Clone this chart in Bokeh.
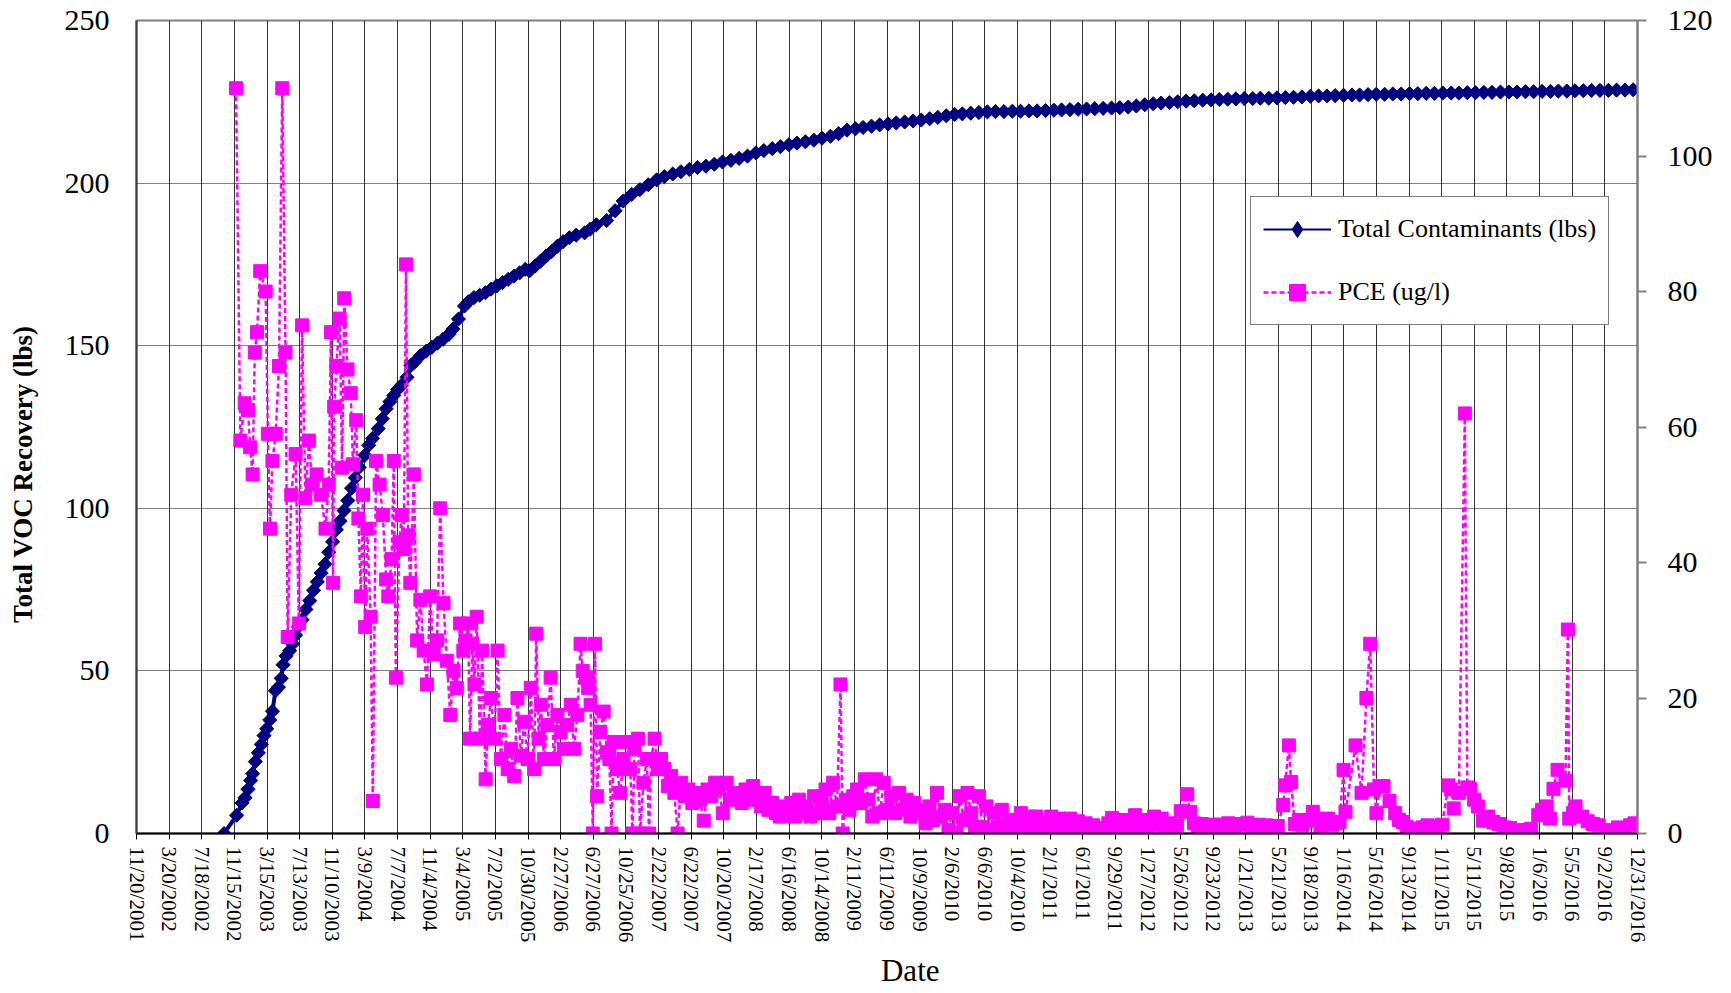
import numpy as np
import pandas as pd
from bokeh.plotting import figure
from bokeh.models import Range1d, LinearAxis, FixedTicker, Legend, LegendItem
from bokeh.embed import file_html
from bokeh.resources import INLINE

START = pd.Timestamp("2001-11-20")

TICK_LABELS = ["11/20/2001", "3/20/2002", "7/18/2002", "11/15/2002", "3/15/2003", "7/13/2003",
               "11/10/2003", "3/9/2004", "7/7/2004", "11/4/2004", "3/4/2005", "7/2/2005",
               "10/30/2005", "2/27/2006", "6/27/2006", "10/25/2006", "2/22/2007", "6/22/2007",
               "10/20/2007", "2/17/2008", "6/16/2008", "10/14/2008", "2/11/2009", "6/11/2009",
               "10/9/2009", "2/6/2010", "6/6/2010", "10/4/2010", "2/1/2011", "6/1/2011",
               "9/29/2011", "1/27/2012", "5/26/2012", "9/23/2012", "1/21/2013", "5/21/2013",
               "9/18/2013", "1/16/2014", "5/16/2014", "9/13/2014", "1/11/2015", "5/11/2015",
               "9/8/2015", "1/6/2016", "5/5/2016", "9/2/2016", "12/31/2016"]
LEFT_TICKS = [0, 50, 100, 150, 200, 250]
RIGHT_TICKS = [0, 20, 40, 60, 80, 100, 120]

# ---- Total Contaminants (lbs), early readings with explicit dates ----
TOTAL_EARLY_DATES = [
    "2002-10-08", "2002-11-23", "2002-12-13", "2002-12-24", "2003-01-04", "2003-01-14", "2003-01-21", "2003-01-31",
    "2003-02-11", "2003-02-22", "2003-03-04", "2003-03-14", "2003-03-25", "2003-04-04", "2003-04-15", "2003-04-26",
    "2003-05-06", "2003-05-13", "2003-05-24", "2003-06-06", "2003-06-17", "2003-06-28", "2003-07-08", "2003-07-22",
    "2003-08-05", "2003-08-19", "2003-09-02", "2003-09-16", "2003-09-30", "2003-10-14", "2003-10-28", "2003-11-11",
    "2003-11-25", "2003-12-09", "2003-12-23", "2004-01-06", "2004-01-20", "2004-02-03", "2004-02-17", "2004-03-09",
    "2004-03-23", "2004-04-06", "2004-04-27", "2004-05-12", "2004-05-26", "2004-06-09", "2004-06-23", "2004-07-07",
    "2004-07-21", "2004-08-11", "2004-08-25", "2004-09-08", "2004-09-29", "2004-10-20", "2004-11-10", "2004-12-01",
    "2004-12-22", "2005-01-12", "2005-01-27", "2005-02-16", "2005-03-10", "2005-03-24", "2005-04-14", "2005-05-05",
    "2005-05-26", "2005-06-16", "2005-07-07", "2005-07-28", "2005-08-18", "2005-09-08", "2005-09-29", "2005-10-20",
    "2005-11-04", "2005-11-25", "2005-12-15", "2006-01-05", "2006-01-25", "2006-02-15", "2006-03-08", "2006-03-31",
    "2006-04-25", "2006-05-26", "2006-06-15", "2006-07-08"]
TOTAL_EARLY_LBS = [
    0, 5.6, 9.4, 11, 13.6, 16.3, 18.4, 22.1,
    24.8, 27.4, 30.1, 32.2, 34.9, 37.6, 43.9, 45,
    47.7, 51.9, 54.6, 56.2, 58.3, 61, 63.6, 65.7,
    68.9, 71.6, 74.8, 77.4, 80.1, 82.8, 86.5, 89.7,
    93.4, 96.1, 99.3, 102.4, 106.2, 109.4, 112.6, 116.3,
    119.4, 121.5, 124.5, 127.5, 130.6, 132.8, 134.7, 136.5,
    137.8, 140.3, 143.9, 145, 146.9, 148.3, 149.5, 150.8,
    152, 153.5, 155.1, 158.2, 162.2, 163.5, 164.8, 165.5,
    166.3, 167.4, 168.4, 169.4, 170.4, 171.4, 172.4, 173.5,
    173, 174.5, 176, 177.6, 179, 180.6, 182, 183.2,
    184, 184.7, 185.8, 187.2]

# ---- Total Contaminants (lbs), monthly readings (mid-month) ----
TOTAL_2006_AUG_DEC = [188.5, 191.5, 194.5, 196.5, 198.0]
TOTAL_2007 = [199.5, 201.0, 202.0, 202.8, 203.5, 204.2, 204.8, 205.2, 205.8, 206.5, 207.0, 207.6]
TOTAL_2008 = [208.3, 209.3, 210.0, 210.6, 211.2, 211.8, 212.3, 212.7, 213.2, 213.8, 214.4, 215.2]
TOTAL_2009 = [216.3, 216.7, 217.1, 217.5, 217.9, 218.2, 218.5, 218.8, 219.1, 219.4, 219.8, 220.2]
TOTAL_2010 = [220.7, 221.1, 221.3, 221.5, 221.7, 221.9, 222.0, 222.0, 222.1, 222.1, 222.2, 222.2]
TOTAL_2011 = [222.3, 222.4, 222.5, 222.6, 222.7, 222.8, 222.9, 223.0, 223.1, 223.2, 223.4, 223.7]
TOTAL_2012 = [224.1, 224.4, 224.6, 224.8, 225.0, 225.2, 225.3, 225.5, 225.6, 225.7, 225.8, 225.9]
TOTAL_2013 = [226.0, 226.0, 226.1, 226.1, 226.2, 226.3, 226.4, 226.5, 226.7, 226.8, 226.8, 226.9]
TOTAL_2014 = [227.0, 227.1, 227.1, 227.2, 227.3, 227.3, 227.4, 227.4, 227.5, 227.5, 227.6, 227.6]
TOTAL_2015 = [227.7, 227.7, 227.7, 227.8, 227.8, 227.9, 227.9, 228.0, 228.0, 228.0, 228.1, 228.1]
TOTAL_2016 = [228.2, 228.2, 228.3, 228.3, 228.4, 228.4, 228.5, 228.5, 228.5, 228.6, 228.6, 228.7]

# ---- PCE (ug/l) ----
PCE_DATES_A = [
    "2002-11-21", "2002-12-07", "2002-12-23", "2003-01-04", "2003-01-12", "2003-01-21", "2003-01-29", "2003-02-06",
    "2003-02-18", "2003-03-10", "2003-03-18", "2003-03-26", "2003-04-04", "2003-04-16", "2003-04-28", "2003-05-10",
    "2003-05-22", "2003-05-30", "2003-06-12", "2003-06-28", "2003-07-10", "2003-07-22", "2003-08-03", "2003-08-16",
    "2003-08-28", "2003-09-13", "2003-09-29", "2003-10-16", "2003-10-28", "2003-11-05", "2003-11-13", "2003-11-17",
    "2003-11-25", "2003-12-07", "2003-12-16", "2003-12-24", "2004-01-05", "2004-01-17", "2004-01-25", "2004-02-06",
    "2004-02-14", "2004-02-23", "2004-03-02", "2004-03-10", "2004-03-18", "2004-03-30", "2004-04-07", "2004-04-19",
    "2004-05-02", "2004-05-14", "2004-05-26", "2004-06-03", "2004-06-15", "2004-06-23", "2004-07-01", "2004-07-14",
    "2004-07-22", "2004-07-30", "2004-08-07", "2004-08-15", "2004-08-23", "2004-09-05", "2004-09-17", "2004-09-29"]
PCE_UGL_A = [
    110, 58, 63.5, 62.5, 57, 53, 71, 74,
    83, 80, 59, 45, 55, 59, 69, 110,
    71, 29, 50, 56, 31, 75, 49.5, 58,
    51.5, 53, 50, 45, 51.5, 74, 37, 63,
    69, 76, 54, 79, 68.5, 65, 54.5, 61,
    46.5, 35, 50, 30.5, 45, 32, 4.8, 55,
    51.5, 47, 37.5, 35, 40.5, 55, 23, 43,
    47, 42, 84, 44, 37, 53, 28.5, 34.5]

PCE_DATES_B = [
    "2004-10-11", "2004-10-23", "2004-11-04", "2004-11-17", "2004-11-29", "2004-12-11", "2004-12-23", "2005-01-04",
    "2005-01-17", "2005-01-29", "2005-02-10", "2005-02-22", "2005-03-06", "2005-03-14", "2005-03-23", "2005-03-31",
    "2005-04-08", "2005-04-16", "2005-04-24", "2005-05-06", "2005-05-14", "2005-05-27", "2005-06-04", "2005-06-16",
    "2005-06-28", "2005-07-10", "2005-07-22", "2005-08-04", "2005-08-16", "2005-08-28", "2005-09-09", "2005-09-21",
    "2005-10-04", "2005-10-16", "2005-10-28", "2005-11-09", "2005-11-21", "2005-11-29", "2005-12-08", "2005-12-16",
    "2005-12-28", "2006-01-09", "2006-01-21", "2006-02-02", "2006-02-15", "2006-02-27", "2006-03-11", "2006-03-23",
    "2006-04-05", "2006-04-17", "2006-04-29", "2006-05-11", "2006-05-19", "2006-05-31", "2006-06-08", "2006-06-17",
    "2006-06-25", "2006-07-03", "2006-07-11", "2006-07-23", "2006-08-04", "2006-08-16", "2006-08-25", "2006-09-02",
    "2006-09-10", "2006-09-22", "2006-10-04", "2006-10-16", "2006-10-28", "2006-11-10", "2006-11-18", "2006-11-26",
    "2006-12-08", "2006-12-16", "2006-12-28", "2007-01-10", "2007-01-18", "2007-01-26", "2007-02-07", "2007-02-19",
    "2007-03-03", "2007-03-16", "2007-03-28", "2007-04-09", "2007-04-21", "2007-05-03", "2007-05-16", "2007-05-30"]
PCE_UGL_B = [
    27, 22, 35, 26.5, 28.5, 48, 34, 25.5,
    17.5, 24, 21.5, 31, 27, 28.5, 31, 14,
    28, 22, 32, 14, 27, 8, 16, 20,
    14, 27, 11, 17.5, 9.5, 12.5, 8.5, 20,
    11.5, 16.5, 11, 21.5, 9.5, 29.5, 14, 19,
    11, 16, 23, 11, 17.5, 15, 12.5, 16,
    19, 12.5, 17.5, 28, 24, 23, 21.5, 19,
    0, 28, 5.5, 15, 18, 12, 11, 0,
    13.5, 9.5, 6, 11, 13.5, 9.5, 0, 12.5,
    14, 0, 7.5, 11, 0, 11, 14, 9.5,
    11, 9.5, 7, 8.5, 6, 0, 7.5, 5.5]

PCE_DATES_C = [
    "2007-06-12", "2007-06-26", "2007-07-10", "2007-07-24", "2007-08-07", "2007-08-21", "2007-09-04", "2007-09-18",
    "2007-10-02", "2007-10-16", "2007-10-30", "2007-11-13", "2007-11-27", "2007-12-11", "2007-12-25", "2008-01-08",
    "2008-01-22", "2008-02-05", "2008-02-19", "2008-03-04", "2008-03-18", "2008-04-01", "2008-04-15", "2008-04-29",
    "2008-05-13", "2008-05-27", "2008-06-10", "2008-06-24", "2008-07-08", "2008-07-22", "2008-08-05", "2008-08-19",
    "2008-09-02", "2008-09-16", "2008-09-30", "2008-10-14", "2008-10-28", "2008-11-11", "2008-11-25", "2008-12-09",
    "2008-12-22", "2008-12-30", "2009-01-10", "2009-01-24", "2009-02-07", "2009-02-21", "2009-03-07", "2009-03-21",
    "2009-04-04", "2009-04-18", "2009-05-02", "2009-05-16", "2009-05-30", "2009-06-13", "2009-06-27", "2009-07-11",
    "2009-07-25", "2009-08-08", "2009-08-22", "2009-09-05", "2009-09-19", "2009-10-03", "2009-10-17", "2009-10-31",
    "2009-11-14", "2009-11-28", "2009-12-12", "2009-12-26", "2010-01-09", "2010-01-23", "2010-02-06", "2010-02-20",
    "2010-03-06", "2010-03-20", "2010-04-03", "2010-04-17", "2010-05-01", "2010-05-15", "2010-05-29", "2010-06-12",
    "2010-06-26", "2010-07-10", "2010-07-24", "2010-08-07", "2010-08-21", "2010-09-04", "2010-09-18", "2010-10-02",
    "2010-10-16", "2010-10-30", "2010-11-13", "2010-11-27", "2010-12-11", "2010-12-25", "2011-01-08", "2011-01-22"]
PCE_UGL_C = [
    6.5, 4.5, 6, 5, 1.9, 6.5, 5.5, 7.5,
    6.5, 3, 7.5, 5, 6, 5.5, 4.5, 6.5,
    5, 7, 5.5, 4, 6, 3.5, 4.5, 3,
    2.5, 4, 2.7, 4.5, 2.5, 5, 3, 4,
    2.5, 5.5, 3, 4.5, 6.5, 3, 7.5, 4,
    22, 0, 5, 3.5, 5.5, 6.5, 4.5, 8,
    5, 2.5, 8, 3, 7.5, 3.5, 5.5, 3,
    6, 3.5, 5, 2.5, 4.5, 3, 3.5, 1.5,
    4, 2, 6, 2.5, 3.5, 0.5, 3, 0,
    5.5, 2, 6, 3, 1, 5.5, 1, 4,
    0.5, 3, 1, 3.5, 0.5, 2, 0.3, 1.5,
    3, 0.5, 2.5, 1, 2.5, 0.3, 1.5, 0.5]

PCE_DATES_D = [
    "2011-02-05", "2011-02-19", "2011-03-05", "2011-03-19", "2011-04-02", "2011-04-16", "2011-04-30", "2011-05-14",
    "2011-05-28", "2011-06-11", "2011-06-25", "2011-07-09", "2011-07-23", "2011-08-06", "2011-08-20", "2011-09-03",
    "2011-09-17", "2011-10-01", "2011-10-15", "2011-10-29", "2011-11-12", "2011-11-26", "2011-12-10", "2011-12-24",
    "2012-01-07", "2012-01-21", "2012-02-04", "2012-02-18", "2012-03-03", "2012-03-17", "2012-03-31", "2012-04-14",
    "2012-04-28", "2012-05-12", "2012-05-26", "2012-06-19", "2012-06-30", "2012-07-14", "2012-07-28", "2012-08-11",
    "2012-08-25", "2012-09-08", "2012-09-22", "2012-10-06", "2012-10-20", "2012-11-03", "2012-11-17", "2012-12-01",
    "2012-12-15", "2012-12-29", "2013-01-12", "2013-01-26", "2013-02-09", "2013-02-23", "2013-03-09", "2013-03-23",
    "2013-04-06", "2013-04-20", "2013-05-04", "2013-05-18", "2013-06-07", "2013-06-14", "2013-06-28", "2013-07-06",
    "2013-07-20", "2013-08-03", "2013-08-17", "2013-08-31", "2013-09-14", "2013-09-24", "2013-10-08", "2013-10-22",
    "2013-11-05", "2013-11-19", "2013-12-03", "2013-12-17", "2013-12-31"]
PCE_UGL_D = [
    2.5, 1, 2.2, 0.4, 1.5, 2.2, 0.5, 1.8,
    0.8, 1.5, 0.3, 1.2, 0.5, 0.8, 0.2, 1.5,
    2.3, 0.5, 1.5, 2, 0.6, 1.5, 2.7, 1,
    2, 0.8, 1.8, 2.5, 1.2, 2.2, 1, 1.5,
    0.5, 1.2, 3.3, 5.8, 3.2, 1.5, 0.9, 1.4,
    1, 1.2, 1.3, 0.9, 1.3, 1, 1.5, 1.3,
    1.1, 1.4, 1.3, 1.6, 1.2, 1, 1.3, 0.9,
    1.2, 1, 0.9, 1.1, 4.2, 7.1, 13, 7.6,
    1.4, 2, 1.2, 1.8, 2, 3.2, 2.2, 0.2,
    1.5, 2.2, 1.2, 1.5, 1.7]

PCE_DATES_E = [
    "2014-01-15", "2014-01-22", "2014-02-28", "2014-03-22", "2014-04-09", "2014-04-23", "2014-05-07", "2014-05-16",
    "2014-05-28", "2014-06-11", "2014-07-03", "2014-07-24", "2014-08-07", "2014-08-21", "2014-09-04", "2014-09-25",
    "2014-10-15", "2014-11-01", "2014-11-20", "2014-12-10", "2014-12-25", "2015-01-12", "2015-02-05", "2015-02-15",
    "2015-02-24", "2015-03-15", "2015-04-06", "2015-04-15", "2015-04-25", "2015-05-10", "2015-05-24", "2015-06-12",
    "2015-06-30", "2015-07-20", "2015-08-10", "2015-08-30", "2015-09-20", "2015-10-15", "2015-11-10", "2015-12-05",
    "2016-01-01", "2016-01-15", "2016-02-01", "2016-02-13", "2016-02-26", "2016-03-12", "2016-04-10", "2016-04-19",
    "2016-04-24", "2016-05-08", "2016-05-17", "2016-06-10", "2016-07-01", "2016-07-20", "2016-08-10", "2016-09-08",
    "2016-09-25", "2016-10-20", "2016-11-10", "2016-12-04", "2016-12-20"]
PCE_UGL_E = [
    9.4, 3.2, 13, 6, 20, 28, 6.5, 3,
    7, 7, 4.8, 3, 2, 1.7, 1, 0.7,
    0.5, 0.9, 1.2, 1, 0.9, 1.3, 7.1, 6.5,
    3.7, 6, 62, 6.8, 6.6, 5, 4, 1.9,
    2.5, 1.7, 1.4, 0.9, 0.8, 0.4, 0.5, 0.7,
    2.7, 3.5, 4, 2.2, 6.6, 9.4, 7.8, 30.1,
    2.2, 3, 4, 2.5, 1.8, 1.4, 1.2, 0.2,
    0.5, 0.9, 0.8, 1.2, 1.5]

FONT = "Liberation Serif"
NAVY = "#000080"
MAGENTA = "#FF00FF"
NBSP = "\u00a0"


def to_days(dates):
    return ((pd.to_datetime(dates) - START) / pd.Timedelta(days=1)).to_numpy()


tick_dates = pd.to_datetime(TICK_LABELS, format="%m/%d/%Y")
tick_days = [int(round(d)) for d in to_days(tick_dates)]

late_dates, late_vals = [], []
for year, m0, vals in [(2006, 8, TOTAL_2006_AUG_DEC), (2007, 1, TOTAL_2007), (2008, 1, TOTAL_2008),
                       (2009, 1, TOTAL_2009), (2010, 1, TOTAL_2010), (2011, 1, TOTAL_2011),
                       (2012, 1, TOTAL_2012), (2013, 1, TOTAL_2013), (2014, 1, TOTAL_2014),
                       (2015, 1, TOTAL_2015), (2016, 1, TOTAL_2016)]:
    for k, v in enumerate(vals):
        late_dates.append(pd.Timestamp(year=year, month=m0 + k, day=15))
        late_vals.append(v)

tot_x = np.concatenate([to_days(TOTAL_EARLY_DATES), to_days(late_dates)])
tot_y = np.array(TOTAL_EARLY_LBS + late_vals, dtype=float)

pce_x = np.concatenate([to_days(d) for d in [PCE_DATES_A, PCE_DATES_B, PCE_DATES_C, PCE_DATES_D, PCE_DATES_E]])
pce_y = np.array(PCE_UGL_A + PCE_UGL_B + PCE_UGL_C + PCE_UGL_D + PCE_UGL_E, dtype=float)

p = figure(width=1715, height=991, output_backend="svg", toolbar_location=None,
           x_range=Range1d(0, tick_days[-1]), y_range=Range1d(0, 250),
           min_border_left=136, min_border_right=75, min_border_top=20, min_border_bottom=154)
p.extra_y_ranges = {"pce": Range1d(0, 120)}
p.outline_line_color = "#808080"
p.outline_line_width = 2
p.background_fill_color = "white"

# grids
p.xgrid.ticker = FixedTicker(ticks=tick_days[1:-1])
p.xgrid.grid_line_color = "black"
p.xgrid.grid_line_alpha = 0.8
p.xgrid.grid_line_width = 1
p.ygrid.ticker = FixedTicker(ticks=LEFT_TICKS[1:-1])
p.ygrid.grid_line_color = "black"
p.ygrid.grid_line_dash = "1 1"
p.ygrid.grid_line_width = 1

# x axis
xa = p.xaxis[0]
xa.ticker = FixedTicker(ticks=tick_days)
xa.major_label_overrides = {d: lab for d, lab in zip(tick_days, TICK_LABELS)}
xa.major_label_orientation = "vertical"
xa.major_label_text_font = FONT
xa.major_label_text_font_size = "21px"
xa.major_label_text_color = "black"
xa.major_label_standoff = 7
xa.major_tick_out = 6
xa.major_tick_in = 0
xa.minor_tick_out = 0
xa.minor_tick_in = 0
xa.major_tick_line_color = "black"
xa.axis_line_color = "black"
xa.axis_line_width = 2
xa.axis_label = NBSP * 6 + "Date"
xa.axis_label_text_font = FONT
xa.axis_label_text_font_size = "31px"
xa.axis_label_text_font_style = "normal"
xa.axis_label_text_color = "black"
xa.axis_label_standoff = 8

# left axis
ya = p.yaxis[0]
ya.ticker = FixedTicker(ticks=LEFT_TICKS)
ya.major_label_text_font = FONT
ya.major_label_text_font_size = "30px"
ya.major_label_text_color = "black"
ya.major_label_standoff = 27
ya.major_tick_out = 0
ya.major_tick_in = 0
ya.minor_tick_out = 0
ya.minor_tick_in = 0
ya.axis_line_color = "#404040"
ya.axis_line_width = 2
ya.axis_label = "Total VOC Recovery (lbs)" + NBSP * 14
ya.axis_label_text_font = FONT
ya.axis_label_text_font_size = "27px"
ya.axis_label_text_font_style = "bold"
ya.axis_label_text_color = "black"
ya.axis_label_standoff = 24

# right axis
ra = LinearAxis(y_range_name="pce", ticker=FixedTicker(ticks=RIGHT_TICKS))
ra.major_label_text_font = FONT
ra.major_label_text_font_size = "30px"
ra.major_label_text_color = "black"
ra.major_label_standoff = 21
ra.major_tick_out = 9
ra.major_tick_in = 0
ra.minor_tick_out = 0
ra.minor_tick_in = 0
ra.major_tick_line_color = "#808080"
ra.major_tick_line_width = 2
ra.axis_line_color = "#808080"
ra.axis_line_width = 2
p.add_layout(ra, "right")

# series
tl = p.line(tot_x, tot_y, line_color=NAVY, line_width=4)
tm = p.scatter(tot_x, tot_y, marker="square", size=10, angle=np.pi / 4,
               fill_color=NAVY, line_color=NAVY)
pl = p.line(pce_x, pce_y, line_color=MAGENTA, line_width=2.5, line_dash="5 3", y_range_name="pce")
pm = p.scatter(pce_x, pce_y, marker="square", size=13, fill_color=MAGENTA, line_color=MAGENTA,
               y_range_name="pce")

# legend key glyphs for the navy series (one point placed outside the visible range)
key_line = p.line([-1000, -900], [-50, -50], line_color=NAVY, line_width=2)
key_diamond = p.scatter([-1000], [-50], marker="diamond", size=17, fill_color=NAVY, line_color=NAVY)

legend = Legend(items=[LegendItem(label="Total Contaminants (lbs)", renderers=[key_line, key_diamond]),
                       LegendItem(label="PCE (ug/l)", renderers=[pl, pm])],
                location=(1114, 508), margin=0, padding=12, spacing=23,
                glyph_width=68, glyph_height=40, label_standoff=7,
                label_text_font=FONT, label_text_font_size="26px", label_text_color="black",
                border_line_color="black", border_line_width=1,
                background_fill_color="white", background_fill_alpha=1.0)
p.add_layout(legend)

open("out.html", "w").write(file_html(p, INLINE))
